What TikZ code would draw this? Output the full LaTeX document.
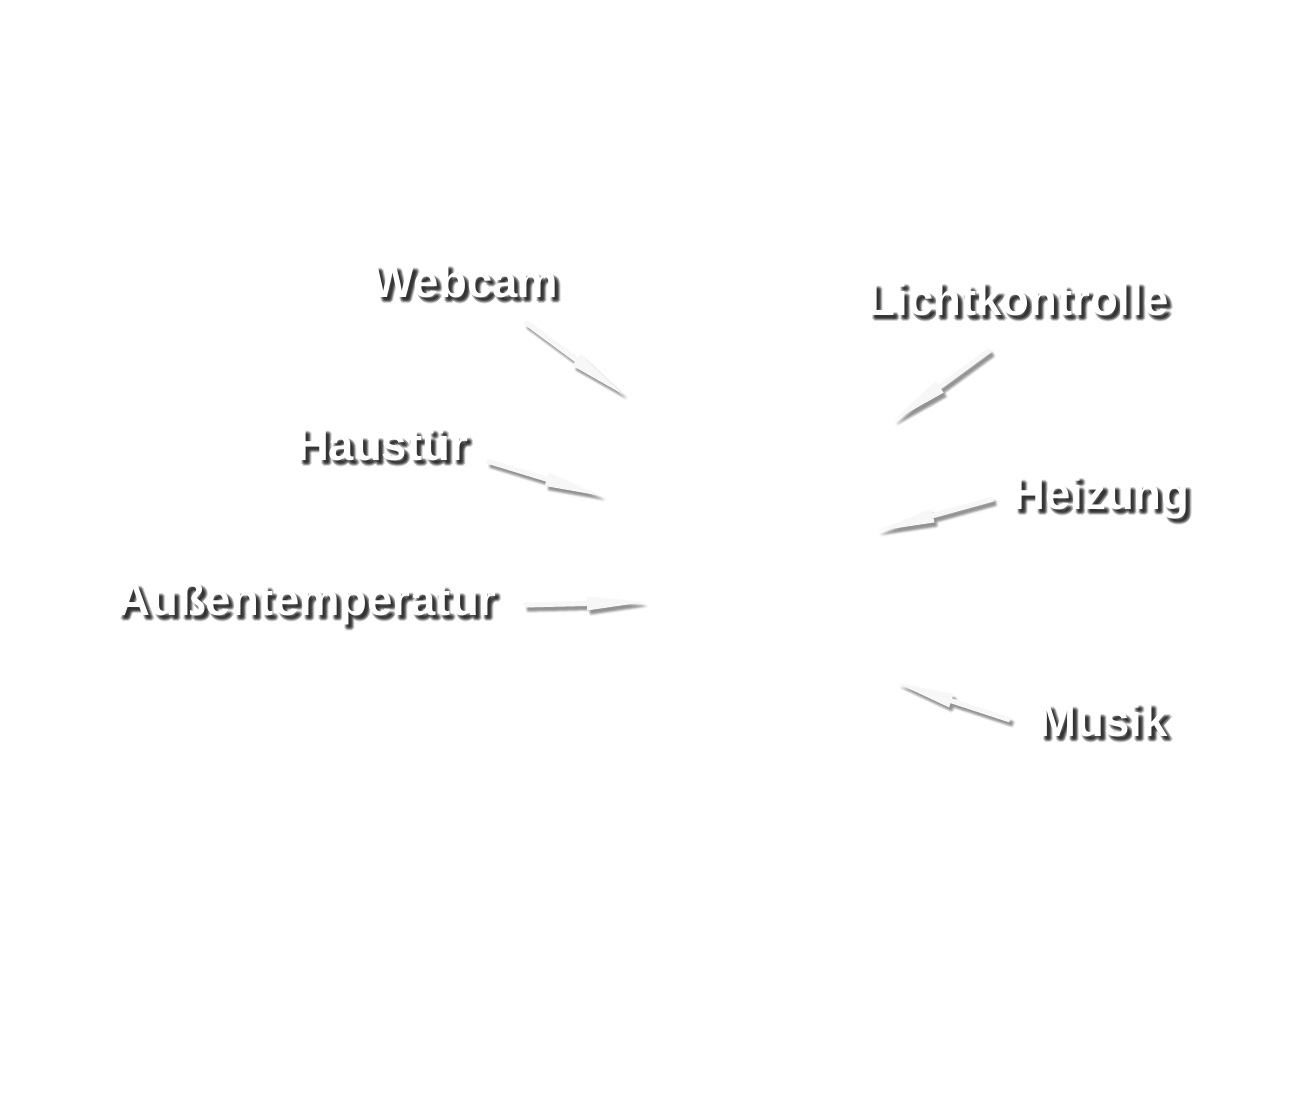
\documentclass[tikz,border=0pt]{standalone}
\usepackage{fontspec}
\setmainfont{Liberation Sans}
\usetikzlibrary{calc}
\tikzset{
  lbl/.style={font=\bfseries\fontsize{45.5}{50}\selectfont, text=white, inner sep=0pt, anchor=base},
  lblshadow/.style={lbl, text=black, opacity=0.16},
  arrshadow/.style={fill=black, opacity=0.04},
  arrbody/.style={fill=gray!6},
}
\newcommand\shtext[3]{% name, position, text
  \foreach \dx/\dy in {3/3,5/3,3/5,5/5,4/4,4/6,6/4,2/4,4/2}
    \node[lblshadow] at ($(#2)+(\dx,\dy)$) {#3};
  \node[lbl] (#1) at (#2) {#3};
}
\newcommand\arrowpath[4]{%
  ($(#1)!2.5pt!90:(#3)+(#4)$) -- ($(#2)!2.5pt!90:(#3)+(#4)$) --
  ($(#2)!7pt!90:(#3)+(#4)$) -- ($(#3)+(#4)$) --
  ($(#2)!7pt!-90:(#3)+(#4)$) -- ($(#2)!2.5pt!-90:(#3)+(#4)$) --
  ($(#1)!2.5pt!-90:(#3)+(#4)$) -- cycle}
\newcommand\bigarrow[2]{% start, tip
  \coordinate (#1h) at ($(#1)!0.52!(#2)$);
  \foreach \dx/\dy in {2/3,3/3,4/3,2/4,3/4,4/4,2/5,3/5,4/5,3/6,5/4,1/4,3/2}
    \fill[arrshadow] \arrowpath{#1}{#1h}{#2}{\dx,\dy};
  \fill[arrbody] \arrowpath{#1}{#1h}{#2}{0,0};
}
\begin{document}
\begin{tikzpicture}[x=1pt,y=-1pt]
\useasboundingbox[fill=white] (0,0) rectangle (1300,1100);
% labels
\shtext{webcam}{465,297}{Webcam}
\shtext{licht}{1018,315}{Lichtkontrolle}
\shtext{haustuer}{382,460}{Haustür}
\shtext{heizung}{1101,509}{Heizung}
\shtext{aussen}{307,615}{Außentemperatur}
\shtext{musik}{1103,736}{Musik}
% arrow end points
\coordinate (wS) at (525,322);  \coordinate (wT) at (624,395);
\coordinate (hS) at (487,461);  \coordinate (hT) at (602,496);
\coordinate (aS) at (524,605);  \coordinate (aT) at (645,602);
\coordinate (lS) at (990,350);  \coordinate (lT) at (893,421);
\coordinate (zS) at (993,499);  \coordinate (zT) at (877,531);
\coordinate (mS) at (1010,720); \coordinate (mT) at (897,683);
\bigarrow{wS}{wT}
\bigarrow{hS}{hT}
\bigarrow{aS}{aT}
\bigarrow{lS}{lT}
\bigarrow{zS}{zT}
\bigarrow{mS}{mT}
\end{tikzpicture}
\end{document}
